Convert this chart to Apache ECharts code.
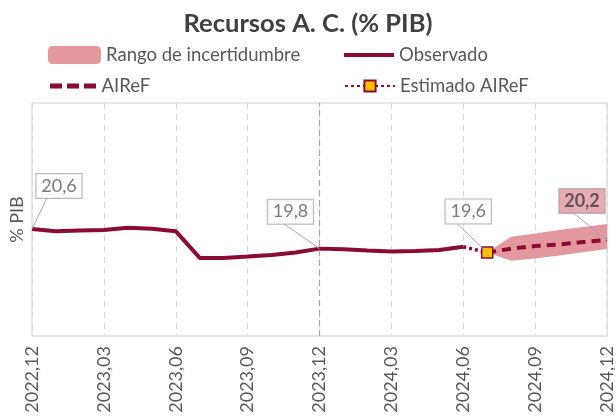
<!DOCTYPE html>
<html>
<head>
<meta charset="utf-8">
<script src="https://cdn.jsdelivr.net/npm/echarts@6/dist/echarts.min.js"></script>
<style>
  html, body { margin: 0; padding: 0; background: #fff; }
  #chart { width: 616px; height: 416px; }
</style>
</head>
<body>
<div id="chart"></div>
<script>
// months 2022,12 .. 2024,12
var months = [
  '2022,12', '2023,01', '2023,02', '2023,03', '2023,04', '2023,05', '2023,06',
  '2023,07', '2023,08', '2023,09', '2023,10', '2023,11', '2023,12',
  '2024,01', '2024,02', '2024,03', '2024,04', '2024,05', '2024,06',
  '2024,07', '2024,08', '2024,09', '2024,10', '2024,11', '2024,12'
];
// observado (hasta 2024,06)
var observado = [20.59, 20.50, 20.53, 20.55, 20.65, 20.60, 20.50,
  19.35, 19.35, 19.41, 19.48, 19.58, 19.75,
  19.72, 19.67, 19.63, 19.65, 19.69, 19.83];
// estimado AIReF (2024,06 -> 2024,07)
var estimado = [19.83, 19.58];
// prevision AIReF (2024,07 -> 2024,12)
var airef = [19.58, 19.75, 19.86, 19.93, 20.03, 20.12];
var bandLow = [19.58, 19.23, 19.33, 19.46, 19.59, 19.73];
var bandHigh = [19.58, 20.26, 20.40, 20.55, 20.68, 20.81];
// etiquetas
var labelMonths = ['2022,12', '2023,12', '2024,07', '2024,12'];
var labelValues = [20.59, 19.75, 19.58, 20.12];
var labelTexts = ['20,6', '19,8', '19,6', '20,2'];

var red = '#8c0b32';
var pink = '#e3979f';
var gray = '#595959';
var font = 'Lato';

function pad(start, arr) {
  var out = [];
  for (var i = 0; i < months.length; i++) {
    var k = i - start;
    out.push(k >= 0 && k < arr.length ? arr[k] : null);
  }
  return out;
}

var fStart = months.indexOf('2024,07');
var bandDiff = bandHigh.map(function (v, i) { return +(v - bandLow[i]).toFixed(2); });
var estData = pad(18, estimado).map(function (v, i) {
  if (v === null) return null;
  return i === 18 ? { value: v, symbol: 'none' } : v;
});

var labelOffsets = [[27, -43], [-29, -37], [-19, -41], [-25, -39]];
var labelData = labelMonths.map(function (m, i) {
  var item = { value: [m, labelValues[i]] };
  if (i === labelMonths.length - 1) {
    item.label = { backgroundColor: pink, fontWeight: 'bold', color: '#404040' };
  }
  return item;
});

function legendAt(left, top, name, icon, w, h) {
  var item = { name: name };
  if (icon) item.icon = icon;
  return {
    left: left, top: top, padding: 0, itemWidth: w, itemHeight: h, itemGap: 0,
    textStyle: { fontSize: 18.5, color: gray, fontFamily: font, lineHeight: 20 },
    data: [item]
  };
}

var chart = echarts.init(document.getElementById('chart'));
chart.setOption({
  animation: false,
  textStyle: { fontFamily: font },
  title: {
    text: 'Recursos A. C. (% PIB)',
    left: 'center',
    top: 6,
    textStyle: { fontSize: 25.5, fontWeight: 'bold', color: '#404040', fontFamily: font }
  },
  legend: [
    legendAt(48, 45, 'Rango de incertidumbre', 'roundRect', 53, 18),
    legendAt(50, 76, 'AIReF', 'path://M0,0h12v5h-12z M17,0h12v5h-12z M34,0h12v5h-12z', 47, 5),
    legendAt(344, 45, 'Observado', 'rect', 50, 4),
    legendAt(344, 76, 'Estimado AIReF', null, 50, 14)
  ],
  grid: { left: 27.5, right: 9, top: 103, bottom: 80, show: true, borderColor: '#d0d0d0', borderWidth: 1 },
  xAxis: {
    type: 'category',
    data: months,
    boundaryGap: false,
    axisLine: { show: false },
    axisTick: { show: false },
    axisLabel: { interval: 2, rotate: 90, fontSize: 18, color: gray, margin: 10 },
    splitLine: { show: true, interval: 2, lineStyle: { color: '#d9d9d9', type: [6, 5] } }
  },
  yAxis: {
    type: 'value',
    min: 16,
    max: 26,
    name: '% PIB',
    nameLocation: 'middle',
    nameGap: 6,
    nameTextStyle: { fontSize: 18, color: gray },
    axisLabel: { show: false },
    axisTick: { show: false },
    axisLine: { show: false },
    splitLine: { show: false }
  },
  series: [
    {
      name: 'band-low', type: 'line', stack: 'band', symbol: 'none',
      lineStyle: { width: 0 }, silent: true,
      data: pad(fStart, bandLow)
    },
    {
      name: 'Rango de incertidumbre', type: 'line', stack: 'band', symbol: 'none',
      color: pink, lineStyle: { width: 0 }, areaStyle: { color: pink, opacity: 1 },
      itemStyle: { color: pink },
      data: pad(fStart, bandDiff)
    },
    {
      name: 'Observado', type: 'line', symbol: 'none', color: red,
      lineStyle: { color: red, width: 4 },
      itemStyle: { color: red },
      data: observado,
      markLine: {
        silent: true, symbol: 'none', label: { show: false },
        lineStyle: { color: '#a6a6a6', type: [6, 4], width: 1.2 },
        data: [{ xAxis: '2023,12' }]
      }
    },
    {
      name: 'AIReF', type: 'line', symbol: 'none', color: red,
      lineStyle: { color: red, width: 4, type: [9, 6] },
      itemStyle: { color: red },
      data: pad(fStart, airef)
    },
    {
      name: 'Estimado AIReF', type: 'line', symbol: 'rect', symbolSize: 11, showAllSymbol: true,
      color: red,
      itemStyle: { color: '#ffc000', borderColor: red, borderWidth: 1.5 },
      lineStyle: { color: red, width: 3.5, type: [3, 3] },
      data: estData,
      z: 5
    },
    {
      name: 'labels', type: 'scatter', symbolSize: 0, silent: true, z: 10,
      data: labelData,
      label: {
        show: true, position: 'inside',
        formatter: function (p) { return labelTexts[p.dataIndex]; },
        fontSize: 18, color: gray, backgroundColor: '#fff',
        borderColor: '#a6a6a6', borderWidth: 1, padding: [4, 5, 2, 5]
      },
      labelLine: { show: true, lineStyle: { color: '#a6a6a6', width: 1 } },
      labelLayout: function (p) {
        var o = labelOffsets[p.dataIndex];
        return { dx: o[0], dy: o[1] };
      }
    }
  ]
});
</script>
</body>
</html>
